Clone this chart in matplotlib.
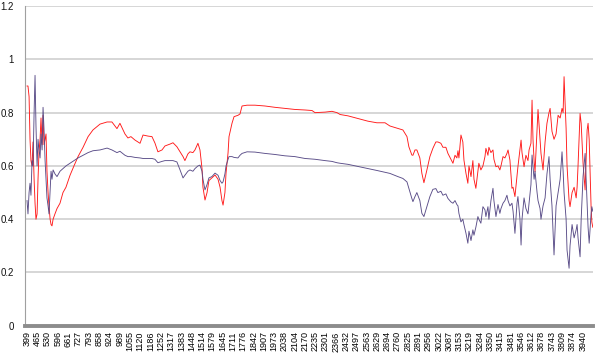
import matplotlib
matplotlib.use("Agg")
import matplotlib.pyplot as plt
from matplotlib import rcParams

# 波数 (cm-1)
wavenumber = [
    399, 405, 412, 418, 424, 431, 437, 444, 450, 456, 463, 469, 475, 482, 488, 495,
    501, 507, 514, 520, 526, 533, 539, 546, 552, 558, 565, 577, 590, 609, 628, 647,
    673, 698, 724, 756, 788, 819, 864, 909, 940, 972, 991, 1023, 1042, 1061, 1087, 1119,
    1138, 1170, 1195, 1214, 1233, 1259, 1278, 1310, 1329, 1354, 1374, 1393, 1405, 1424, 1437, 1456,
    1469, 1488, 1501, 1514, 1520, 1533, 1546, 1558, 1577, 1597, 1616, 1629, 1641, 1648, 1660, 1667,
    1680, 1686, 1705, 1718, 1743, 1756, 1769, 1801, 1851, 1915, 1979, 2042, 2106, 2170, 2215, 2234,
    2298, 2342, 2374, 2394, 2444, 2508, 2571, 2628, 2680, 2711, 2762, 2794, 2820, 2832, 2851, 2858,
    2871, 2883, 2902, 2915, 2928, 2947, 2966, 2985, 3004, 3017, 3036, 3049, 3068, 3081, 3100, 3113,
    3126, 3138, 3145, 3151, 3164, 3176, 3183, 3196, 3208, 3215, 3228, 3240, 3247, 3259, 3272, 3278,
    3291, 3304, 3317, 3323, 3336, 3342, 3355, 3368, 3374, 3387, 3400, 3412, 3419, 3432, 3444, 3457,
    3464, 3476, 3489, 3496, 3508, 3521, 3527, 3540, 3547, 3553, 3566, 3578, 3591, 3598, 3610, 3617,
    3623, 3630, 3636, 3649, 3655, 3668, 3674, 3687, 3700, 3712, 3725, 3732, 3744, 3757, 3770, 3783,
    3796, 3808, 3815, 3821, 3834, 3840, 3853, 3859, 3872, 3885, 3898, 3904, 3910, 3923, 3930, 3942,
    3955, 3968, 3974, 3981, 3993, 3998, 4004,
]

red_series = [
    0.90, 0.90, 0.86, 0.70, 0.62, 0.60, 0.69, 0.55, 0.46, 0.40, 0.42, 0.55, 0.65, 0.70, 0.78, 0.68,
    0.79, 0.68, 0.70, 0.72, 0.58, 0.50, 0.45, 0.40, 0.38, 0.375, 0.40, 0.42, 0.44, 0.46, 0.50, 0.52,
    0.565, 0.60, 0.635, 0.67, 0.71, 0.735, 0.757, 0.765, 0.765, 0.74, 0.76, 0.72, 0.705, 0.71, 0.697, 0.685,
    0.716, 0.712, 0.71, 0.686, 0.653, 0.66, 0.675, 0.682, 0.687, 0.672, 0.653, 0.635, 0.62, 0.645, 0.653, 0.65,
    0.66, 0.685, 0.66, 0.59, 0.52, 0.472, 0.50, 0.545, 0.555, 0.566, 0.55, 0.52, 0.47, 0.453, 0.50, 0.573,
    0.65, 0.71, 0.76, 0.785, 0.79, 0.795, 0.825, 0.828, 0.828, 0.825, 0.82, 0.816, 0.812, 0.81, 0.808, 0.80,
    0.802, 0.805, 0.80, 0.793, 0.788, 0.778, 0.768, 0.762, 0.762, 0.75, 0.741, 0.735, 0.71, 0.672, 0.641, 0.64,
    0.66, 0.66, 0.63, 0.572, 0.537, 0.585, 0.635, 0.666, 0.69, 0.69, 0.685, 0.67, 0.67, 0.647, 0.625, 0.61,
    0.64, 0.63, 0.657, 0.63, 0.716, 0.69, 0.622, 0.572, 0.535, 0.60, 0.56, 0.62, 0.55, 0.516, 0.58, 0.61,
    0.585, 0.60, 0.635, 0.666, 0.64, 0.67, 0.65, 0.66, 0.625, 0.597, 0.60, 0.585, 0.60, 0.635, 0.63, 0.647,
    0.66, 0.622, 0.516, 0.52, 0.485, 0.56, 0.597, 0.66, 0.697, 0.65, 0.597, 0.64, 0.62, 0.66, 0.685, 0.847,
    0.70, 0.62, 0.578, 0.74, 0.812, 0.70, 0.647, 0.585, 0.69, 0.76, 0.80, 0.816, 0.73, 0.70, 0.72, 0.79,
    0.78, 0.816, 0.80, 0.935, 0.74, 0.60, 0.47, 0.447, 0.50, 0.52, 0.48, 0.52, 0.60, 0.797, 0.76, 0.61,
    0.51, 0.735, 0.76, 0.70, 0.45, 0.39, 0.37,
]

purple_series = [
    0.47, 0.42, 0.50, 0.535, 0.49, 0.62, 0.60, 0.80, 0.94, 0.75, 0.60, 0.70, 0.66, 0.63, 0.72, 0.66,
    0.82, 0.74, 0.62, 0.55, 0.48, 0.45, 0.42, 0.51, 0.58, 0.55, 0.585, 0.57, 0.56, 0.58, 0.59, 0.60,
    0.61, 0.62, 0.63, 0.64, 0.65, 0.657, 0.66, 0.667, 0.66, 0.65, 0.655, 0.64, 0.635, 0.635, 0.632, 0.63,
    0.628, 0.628, 0.628, 0.625, 0.612, 0.617, 0.62, 0.62, 0.62, 0.615, 0.585, 0.555, 0.565, 0.58, 0.585, 0.58,
    0.59, 0.60, 0.603, 0.58, 0.55, 0.51, 0.53, 0.555, 0.56, 0.573, 0.565, 0.545, 0.535, 0.54, 0.57, 0.60,
    0.625, 0.635, 0.635, 0.632, 0.63, 0.64, 0.647, 0.653, 0.652, 0.647, 0.643, 0.638, 0.635, 0.628, 0.626, 0.625,
    0.62, 0.617, 0.612, 0.61, 0.606, 0.598, 0.59, 0.583, 0.576, 0.572, 0.56, 0.553, 0.54, 0.516, 0.478, 0.466,
    0.485, 0.50, 0.47, 0.422, 0.41, 0.447, 0.485, 0.512, 0.515, 0.50, 0.505, 0.49, 0.495, 0.478, 0.465, 0.46,
    0.47, 0.455, 0.45, 0.422, 0.39, 0.40, 0.38, 0.347, 0.31, 0.355, 0.32, 0.36, 0.34, 0.37, 0.41, 0.40,
    0.385, 0.447, 0.435, 0.41, 0.447, 0.40, 0.47, 0.516, 0.47, 0.41, 0.455, 0.422, 0.44, 0.46, 0.47, 0.49,
    0.47, 0.45, 0.46, 0.43, 0.347, 0.46, 0.485, 0.40, 0.303, 0.40, 0.48, 0.44, 0.42, 0.46, 0.53, 0.641,
    0.60, 0.55, 0.58, 0.50, 0.47, 0.44, 0.40, 0.45, 0.48, 0.57, 0.635, 0.55, 0.45, 0.266, 0.45, 0.50,
    0.55, 0.653, 0.58, 0.50, 0.40, 0.284, 0.216, 0.30, 0.38, 0.33, 0.36, 0.38, 0.33, 0.259, 0.40, 0.56,
    0.647, 0.46, 0.37, 0.31, 0.42, 0.447, 0.43,
]

# x 轴标签
tick_labels = [
    399, 465, 530, 596, 661, 727, 793, 858, 924, 989, 1055, 1120, 1186, 1252, 1317, 1383,
    1448, 1514, 1579, 1645, 1711, 1776, 1842, 1907, 1973, 2038, 2104, 2170, 2235, 2301, 2366, 2432,
    2497, 2563, 2629, 2694, 2760, 2825, 2891, 2956, 3022, 3087, 3153, 3219, 3284, 3350, 3415, 3481,
    3546, 3612, 3678, 3743, 3809, 3874, 3940,
]
y_ticks = [0, 0.2, 0.4, 0.6, 0.8, 1, 1.2]
y_tick_labels = ["0", "0.2", "0.4", "0.6", "0.8", "1", "1.2"]

# 字体
rcParams.update({
    'font.family': ['Liberation Sans', 'DejaVu Sans'],
    'font.size': 7,
})

series_list = [red_series, purple_series]
color_lst = ["#FF1A1A", "#5A4D88"]
lw_lst = [0.65, 0.65]

fig = plt.figure(figsize=(5.98, 3.58), dpi=100)
ax = fig.add_axes([0.0418, 0.090, 0.950, 0.893])

for i in range(len(series_list)):
    ax.plot(wavenumber, series_list[i], color=color_lst[i], linewidth=lw_lst[i], zorder=3)

ax.set_xlim(386, 4006)
ax.set_ylim(0, 1.2)

# 网格线
ax.set_yticks(y_ticks)
ax.set_yticklabels(y_tick_labels, fontsize=7, color="#111111")
ax.grid(True, axis='y', color="#CFCFCF", linewidth=1.2, zorder=0)
ax.set_xticks(tick_labels)
ax.set_xticklabels([str(t) for t in tick_labels], rotation=90, fontsize=6.5, color="#000000")
ax.tick_params(axis='y', length=0, pad=8)
ax.tick_params(axis='x', length=0, pad=4)

for s in ['top', 'right']:
    ax.spines[s].set_visible(False)
ax.spines['left'].set_color("#A0A0A0")
ax.spines['left'].set_linewidth(0.8)
ax.spines['bottom'].set_color("#8C8C8C")
ax.spines['bottom'].set_linewidth(2.8)
ax.spines['bottom'].set_zorder(4)

plt.savefig("out.png", dpi=100)
